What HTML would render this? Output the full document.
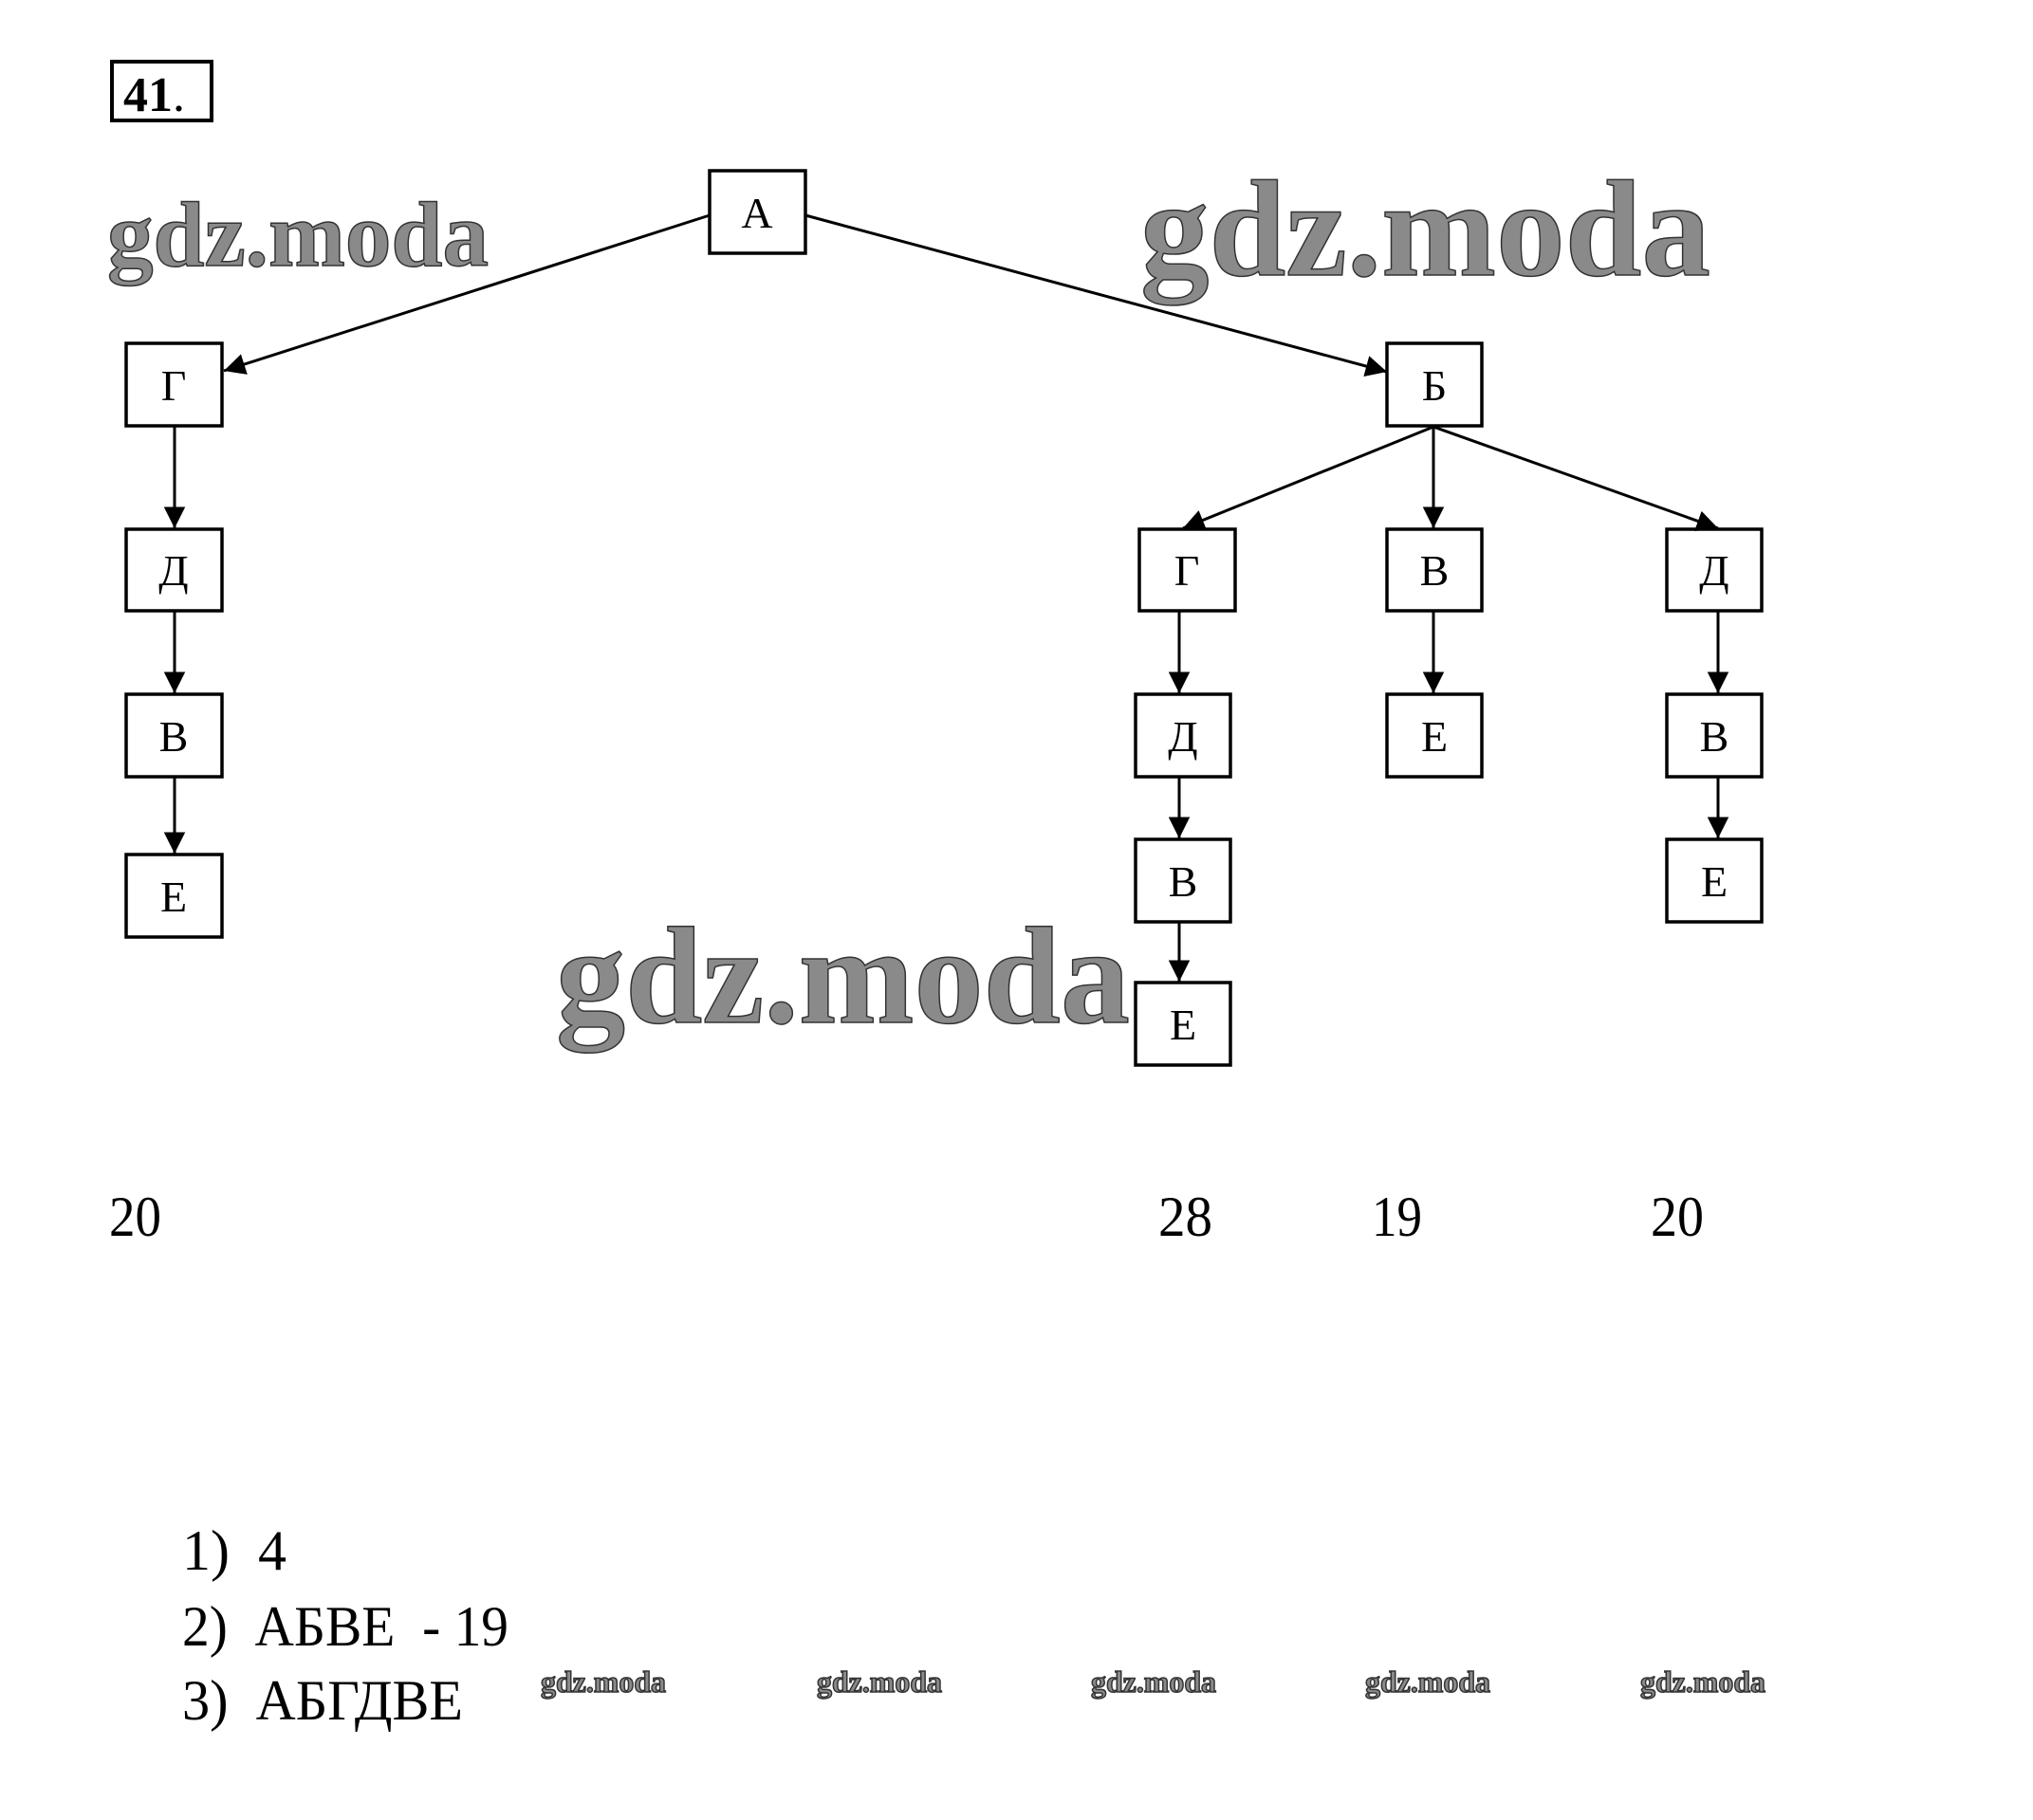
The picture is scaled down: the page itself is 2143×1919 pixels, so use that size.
<!DOCTYPE html>
<html><head><meta charset="utf-8"><style>
html,body{margin:0;padding:0;background:#fff;}
svg{display:block;}
.n{font-family:"Liberation Serif","Noto Serif CJK SC",serif;font-size:46px;fill:#000;text-anchor:middle;}
.d{font-family:"Liberation Serif","Noto Serif CJK SC",serif;font-size:60px;fill:#000;}
.w{font-family:"Liberation Serif",serif;font-weight:bold;fill:#8a8a8a;stroke:#333;stroke-width:1.5;}
</style></head><body>
<svg width="2143" height="1919" viewBox="0 0 2143 1919" xmlns="http://www.w3.org/2000/svg">
<defs><marker id="a" viewBox="0 0 10 10" refX="10" refY="5" markerWidth="7.5" markerHeight="7.5" orient="auto" markerUnits="strokeWidth"><path d="M0,0 L10,5 L0,10 z" fill="#000"/></marker></defs>
<text class="w" x="113" y="280" font-size="97" textLength="402" lengthAdjust="spacingAndGlyphs">gdz.moda</text>
<text class="w" x="1202" y="290" font-size="145" textLength="601" lengthAdjust="spacingAndGlyphs">gdz.moda</text>
<text class="w" x="586" y="1078" font-size="146" textLength="605" lengthAdjust="spacingAndGlyphs">gdz.moda</text>
<g style="stroke-width:0.5">
<text class="w" x="570" y="1784" textLength="132" lengthAdjust="spacingAndGlyphs" font-size="32">gdz.moda</text>
<text class="w" x="861" y="1784" textLength="132" lengthAdjust="spacingAndGlyphs" font-size="32">gdz.moda</text>
<text class="w" x="1150" y="1784" textLength="132" lengthAdjust="spacingAndGlyphs" font-size="32">gdz.moda</text>
<text class="w" x="1439" y="1784" textLength="132" lengthAdjust="spacingAndGlyphs" font-size="32">gdz.moda</text>
<text class="w" x="1729" y="1784" textLength="132" lengthAdjust="spacingAndGlyphs" font-size="32">gdz.moda</text>
</g>
<rect x="118" y="65" width="105" height="62" fill="none" stroke="#000" stroke-width="4"/>
<text x="130" y="117" font-family="Liberation Serif,serif" font-weight="bold" font-size="52">41<tspan font-weight="normal">.</tspan></text>
<g fill="#fff" stroke="#000" stroke-width="3.5">
<rect x="748" y="180" width="101" height="87"/>
<rect x="133" y="362" width="101" height="87"/>
<rect x="133" y="558" width="101" height="86"/>
<rect x="133" y="732" width="101" height="87"/>
<rect x="133" y="901" width="101" height="87"/>
<rect x="1462" y="362" width="100" height="87"/>
<rect x="1201" y="558" width="101" height="86"/>
<rect x="1462" y="558" width="100" height="86"/>
<rect x="1757" y="558" width="100" height="86"/>
<rect x="1197" y="732" width="100" height="87"/>
<rect x="1462" y="732" width="100" height="87"/>
<rect x="1757" y="732" width="100" height="87"/>
<rect x="1197" y="885" width="100" height="87"/>
<rect x="1757" y="885" width="100" height="87"/>
<rect x="1197" y="1036" width="100" height="87"/>
</g>
<g class="n">
<text x="798" y="240">А</text>
<text x="183" y="422">Г</text>
<text x="183" y="617">Д</text>
<text x="183" y="792">В</text>
<text x="183" y="961">Е</text>
<text x="1512" y="422">Б</text>
<text x="1251" y="617">Г</text>
<text x="1512" y="617">В</text>
<text x="1807" y="617">Д</text>
<text x="1247" y="792">Д</text>
<text x="1512" y="792">Е</text>
<text x="1807" y="792">В</text>
<text x="1247" y="945">В</text>
<text x="1807" y="945">Е</text>
<text x="1247" y="1096">Е</text>
</g>
<g stroke="#000" stroke-width="3" marker-end="url(#a)" fill="none">
<line x1="748" y1="227" x2="236" y2="391"/>
<line x1="849" y1="227" x2="1462" y2="392"/>
<line x1="1511" y1="450" x2="1247" y2="557"/>
<line x1="1511" y1="450" x2="1511" y2="557"/>
<line x1="1511" y1="450" x2="1811" y2="557"/>
<line x1="184" y1="449" x2="184" y2="557"/>
<line x1="184" y1="644" x2="184" y2="731"/>
<line x1="184" y1="819" x2="184" y2="900"/>
<line x1="1243" y1="644" x2="1243" y2="731"/>
<line x1="1243" y1="819" x2="1243" y2="884"/>
<line x1="1243" y1="972" x2="1243" y2="1035"/>
<line x1="1511" y1="644" x2="1511" y2="731"/>
<line x1="1811" y1="644" x2="1811" y2="731"/>
<line x1="1811" y1="819" x2="1811" y2="884"/>
</g>
<text class="d" x="115" y="1303" textLength="55" lengthAdjust="spacingAndGlyphs">20</text>
<text class="d" x="1221" y="1303" textLength="57" lengthAdjust="spacingAndGlyphs">28</text>
<text class="d" x="1446" y="1303" textLength="53" lengthAdjust="spacingAndGlyphs">19</text>
<text class="d" x="1740" y="1303" textLength="56" lengthAdjust="spacingAndGlyphs">20</text>
<text class="d" x="192" y="1655" font-size="58" xml:space="preserve">1)  4</text>
<text class="d" x="192" y="1735" font-size="58" textLength="344" lengthAdjust="spacingAndGlyphs" xml:space="preserve">2)  АБВЕ  - 19</text>
<text class="d" x="192" y="1813" font-size="58" textLength="296" lengthAdjust="spacingAndGlyphs" xml:space="preserve">3)  АБГДВЕ</text>
</svg>
</body></html>
